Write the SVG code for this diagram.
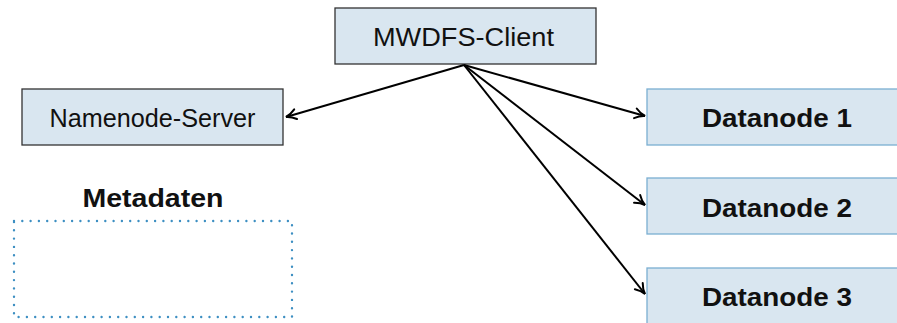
<svg xmlns="http://www.w3.org/2000/svg" width="897" height="323" viewBox="0 0 897 323">
<defs>
<style>
.box{fill:#d9e6f0;stroke:#333;stroke-width:1.3}
.dbox{fill:#d9e6f0;stroke:#7aafd2;stroke-width:1.3}
.t{font-family:"Liberation Sans",Arial,sans-serif;font-size:25px;fill:#111;text-anchor:middle}
.b{font-weight:bold}
.edge{stroke:#000;stroke-width:2;fill:none;marker-end:url(#ah)}
</style>
<marker id="ah" viewBox="0 0 14 14" refX="12" refY="7" markerWidth="14" markerHeight="14" markerUnits="userSpaceOnUse" orient="auto">
<path d="M2,2 Q7,6 12,7 Q7,8 2,12" fill="none" stroke="#000" stroke-width="2" stroke-linecap="round"/>
</marker>
</defs>
<rect width="897" height="323" fill="#fff"/>
<g id="client">
<rect class="box" x="335" y="8" width="261" height="56"/>
<text class="t" x="463.5" y="46" textLength="181" lengthAdjust="spacingAndGlyphs">MWDFS-Client</text>
</g>
<g id="namenode">
<rect class="box" x="22" y="89" width="261" height="56"/>
<text class="t" x="152.5" y="127" textLength="206" lengthAdjust="spacingAndGlyphs">Namenode-Server</text>
</g>
<g id="metadaten">
<text class="t b" x="153" y="207" textLength="141" lengthAdjust="spacingAndGlyphs">Metadaten</text>
<rect x="14" y="221" width="278" height="96" fill="none" stroke="#3d8fc2" stroke-width="2.4" stroke-dasharray="0 8.3" stroke-linecap="round"/>
</g>
<g id="datanode1">
<rect class="dbox" x="647" y="89" width="261" height="56"/>
<text class="t b" x="777" y="127" textLength="150" lengthAdjust="spacingAndGlyphs">Datanode 1</text>
</g>
<g id="datanode2">
<rect class="dbox" x="647" y="178" width="261" height="56"/>
<text class="t b" x="777" y="217" textLength="150" lengthAdjust="spacingAndGlyphs">Datanode 2</text>
</g>
<g id="datanode3">
<rect class="dbox" x="647" y="268" width="261" height="56"/>
<text class="t b" x="777" y="306" textLength="150" lengthAdjust="spacingAndGlyphs">Datanode 3</text>
</g>
<g id="connectors">
<line class="edge" x1="464" y1="65" x2="286" y2="117"/>
<line class="edge" x1="464" y1="65" x2="645" y2="116"/>
<line class="edge" x1="464" y1="65" x2="645" y2="205"/>
<line class="edge" x1="464" y1="65" x2="645" y2="294"/>
</g>
</svg>
